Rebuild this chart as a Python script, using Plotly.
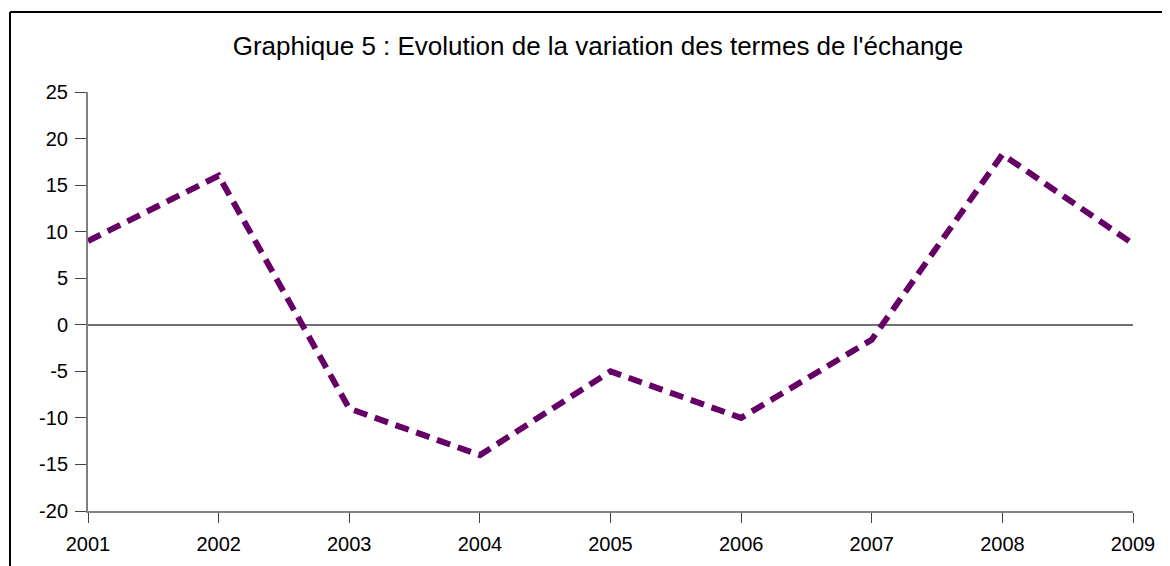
import plotly.graph_objects as go

years = [2001, 2002, 2003, 2004, 2005, 2006, 2007, 2008, 2009]
values = [9, 16, -9, -14, -5, -10, -1.6, 18.3, 8.7]
y_ticks = [-20, -15, -10, -5, 0, 5, 10, 15, 20, 25]
y_tick_text = ["-20", "-15", "-10", "-5", "0", "5", "10", "15", "20", "25"]

# page body has an 8px offset; positions below are in figure pixels
W, H = 1170, 566
L, T = 80, 84
R = W - 1125
B = H - 503
pw, ph = W - L - R, H - T - B

fig = go.Figure()
fig.add_trace(go.Scatter(
    x=years, y=values, mode="lines",
    line=dict(color="#660066", width=6, dash="14px,8px"),
    showlegend=False, hoverinfo="skip",
))

fig.update_layout(
    width=W, height=H,
    margin=dict(l=L, r=R, t=T, b=B),
    paper_bgcolor="white", plot_bgcolor="white",
    font=dict(family="Liberation Sans, Arial", size=20, color="black"),
    title=dict(text="Graphique 5 : Evolution de la variation des termes de l'échange",
               x=590 / W, xanchor="center", y=1 - 38 / H, yanchor="middle",
               font=dict(size=26, color="black")),
    xaxis=dict(range=[2001, 2009], tickvals=years, ticktext=[str(y) for y in years],
               showgrid=False, zeroline=False, showline=True, linecolor="#808080",
               linewidth=2, ticks="outside", ticklen=10, tickcolor="#444444",
               tickwidth=1, tickfont=dict(size=20), ticklabelstandoff=4),
    yaxis=dict(range=[-20, 25], tickvals=y_ticks, ticktext=y_tick_text, showgrid=False,
               zeroline=True, zerolinecolor="#707070", zerolinewidth=1.5,
               showline=True, linecolor="#808080", linewidth=2,
               ticks="outside", ticklen=11, tickcolor="#444444", tickwidth=1,
               tickfont=dict(size=20), ticklabelstandoff=3),
    shapes=[
        dict(type="line", xref="paper", yref="paper",
             x0=(2 - L) / pw, x1=(W + 5 - L) / pw,
             y0=(H - B - 4) / ph, y1=(H - B - 4) / ph,
             line=dict(color="black", width=2)),
        dict(type="line", xref="paper", yref="paper",
             x0=(2 - L) / pw, x1=(2 - L) / pw,
             y0=(H - B - 4) / ph, y1=-(B + 5) / ph,
             line=dict(color="black", width=2)),
    ],
)

fig.write_html("out.html")
